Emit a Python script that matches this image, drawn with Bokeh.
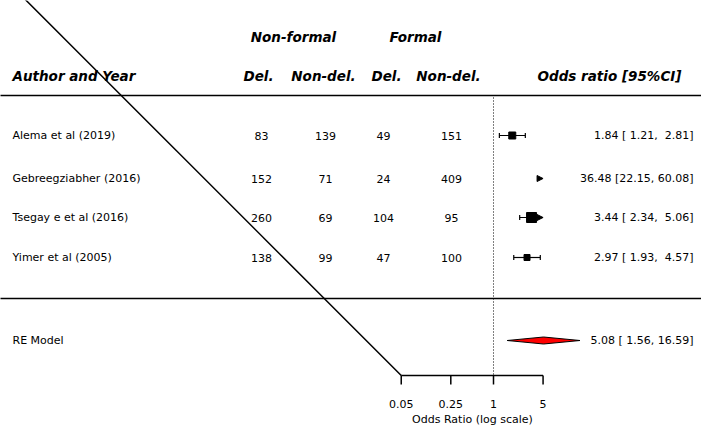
import numpy as np
from bokeh.plotting import figure
from bokeh.models import Range1d
from bokeh.core.properties import value
from bokeh.embed import file_html
from bokeh.resources import INLINE

# ---------------- data ----------------
studies = ["Alema et al (2019)", "Gebreegziabher (2016)", "Tsegay e et al (2016)", "Yimer et al (2005)"]
nf_del = [83, 152, 260, 138]
nf_nondel = [139, 71, 69, 99]
f_del = [49, 24, 104, 47]
f_nondel = [151, 409, 95, 100]
or_est = [1.84, 36.48, 3.44, 2.97]
or_lb = [1.21, 22.15, 2.34, 1.93]
or_ub = [2.81, 60.08, 5.06, 4.57]
re_label = "RE Model"
re_est, re_lb, re_ub = 5.08, 1.56, 16.59
tick_vals = [0.05, 0.25, 1, 5]
tick_labels = ["0.05", "0.25", "1", "5"]

# ---------------- layout (picture pixels) ----------------
W, H = 701, 429
S = 30.8          # px per ln unit
X0 = 493          # x of OR = 1
def px(x):        # picture x -> data x (ln OR)
    return (x - X0) / S

row_y = [135, 178, 217, 257]
re_y = 340
sq_size = [7, 0, 10, 6]
FONT = value("DejaVu Sans")
BODY = "11px"
HEAD = "13.5px"

p = figure(width=W, height=H, x_range=Range1d(px(0), px(W)), y_range=Range1d(H, 0),
           output_backend="svg", toolbar_location=None, x_axis_location=None, y_axis_location=None,
           min_border=0, outline_line_color=None)
p.xgrid.visible = False
p.ygrid.visible = False

lo, hi = np.log(tick_vals[0]), np.log(tick_vals[-1])

# horizontal separators
for yy in [95, 298]:
    p.line([px(-5), px(W + 5)], [yy, yy], line_color="black", line_width=1.5)

# diagonal line
p.line([lo, lo - 420 / S], [375, 375 - 420], line_color="black", line_width=1.5)

# reference line at OR = 1
p.line([0, 0], [97, 375], line_color="black", line_width=1, line_dash="1 2")

# axis
p.line([lo, hi], [375, 375], line_color="black", line_width=1.5)
lt = np.log(tick_vals)
p.segment(x0=lt, y0=[375] * 4, x1=lt, y1=[384] * 4, line_color="black", line_width=1.5)
p.text(x=lt, y=[403] * 4, text=tick_labels, text_font=FONT, text_font_size=BODY,
       text_align="center", text_baseline="middle", text_color="black")
p.text(x=[px(472)], y=[419], text=["Odds Ratio (log scale)"], text_font=FONT, text_font_size=BODY,
       text_align="center", text_baseline="middle", text_color="black")

# headers
hdr = dict(text_font=FONT, text_font_size=HEAD, text_font_style="bold italic", text_baseline="middle",
           text_color="black")
p.text(x=[px(293), px(415)], y=[36, 36], text=["Non-formal", "Formal"], text_align="center", **hdr)
p.text(x=[px(12)], y=[75], text=["Author and Year"], text_align="left", **hdr)
p.text(x=[px(258), px(323), px(386), px(448)], y=[75] * 4, text=["Del.", "Non-del.", "Del.", "Non-del."],
       text_align="center", **hdr)
p.text(x=[px(681)], y=[75], text=["Odds ratio [95%CI]"], text_align="right", **hdr)

body = dict(text_font=FONT, text_font_size=BODY, text_baseline="middle", text_color="black")
p.text(x=[px(12)] * 5, y=row_y + [re_y], text=studies + [re_label], text_align="left", **body)
for col, xc in zip([nf_del, nf_nondel, f_del, f_nondel], [261, 325, 383, 451]):
    p.text(x=[px(xc)] * 4, y=row_y, text=[str(v) for v in col], text_align="center", **body)

def fmt(e, l, u):
    return f"{e:.2f} [{l:5.2f}, {u:5.2f}]".replace(" ", "\u00a0")

p.text(x=[px(693)] * 5, y=row_y + [re_y],
       text=[fmt(e, l, u) for e, l, u in zip(or_est, or_lb, or_ub)] + [fmt(re_est, re_lb, re_ub)],
       text_align="right", **body)

# study markers
cap = 2.5
aw, ah = 6 / S, 3
for e, l, u, yy, sz in zip(or_est, or_lb, or_ub, row_y, sq_size):
    le, ll, lu = np.log(e), np.log(l), np.log(u)
    if ll > hi:
        p.patch([hi - aw, hi, hi - aw], [yy - ah, yy, yy + ah], color="black")
        continue
    a, b = max(ll, lo), min(lu, hi)
    p.line([a, b], [yy, yy], line_color="black", line_width=1.2)
    if ll >= lo:
        p.line([a, a], [yy - cap, yy + cap], line_color="black", line_width=1.2)
    if lu <= hi:
        p.line([b, b], [yy - cap, yy + cap], line_color="black", line_width=1.2)
    else:
        p.patch([hi - aw, hi, hi - aw], [yy - ah, yy, yy + ah], color="black")
    if lo <= le <= hi:
        p.scatter([le], [yy], marker="square", size=sz, color="black")

# RE diamond
dh = 3.5
p.patch([np.log(re_lb), np.log(re_est), np.log(re_ub), np.log(re_est)],
        [re_y, re_y - dh, re_y, re_y + dh], fill_color="red", line_color="black", line_width=1)

open("out.html", "w").write(file_html(p, INLINE))
